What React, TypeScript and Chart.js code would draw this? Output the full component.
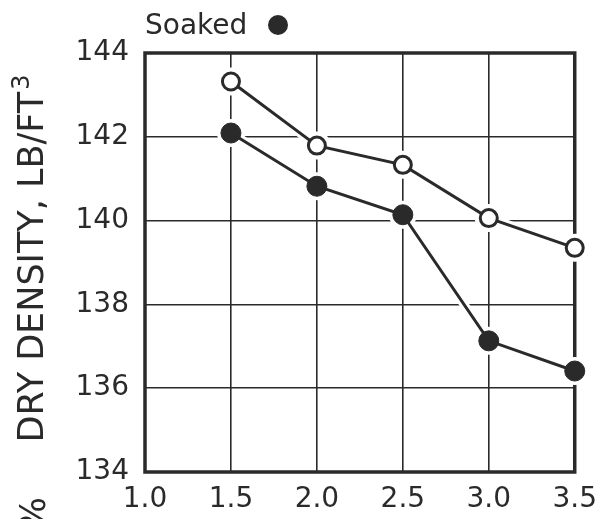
import React, { useEffect, useRef } from "react";
import { Chart, registerables } from "chart.js";

Chart.register(...registerables);

const xValues = [1.5, 2.0, 2.5, 3.0, 3.5];
const unsoaked = [143.32, 141.79, 141.33, 140.06, 139.35];
const soaked = [142.09, 140.82, 140.14, 137.13, 136.41];
const xTicks = [1.0, 1.5, 2.0, 2.5, 3.0, 3.5];
const yTicks = [134, 136, 138, 140, 142, 144];
const legendLabel = "Soaked";
const yTitleMain = "DRY DENSITY, LB/FT";
const yTitleSup = "3";
const cutLabel = "%";

const INK = "#2a2a2a";
const FONT = "'DejaVu Sans', sans-serif";

const toPts = (vals: number[]) => vals.map((y, i) => ({ x: xValues[i], y }));

const decorPlugin = {
  id: "decor",
  beforeDatasetsDraw(chart: any) {
    const { ctx, chartArea } = chart;
    ctx.save();
    ctx.strokeStyle = INK;
    ctx.lineWidth = 3.5;
    ctx.strokeRect(chartArea.left, chartArea.top, chartArea.right - chartArea.left, chartArea.bottom - chartArea.top);
    ctx.restore();
  },
  afterDraw(chart: any) {
    const { ctx, chartArea } = chart;
    ctx.save();
    ctx.fillStyle = INK;
    // legend
    ctx.font = `28px ${FONT}`;
    ctx.textAlign = "left";
    ctx.textBaseline = "alphabetic";
    ctx.fillText(legendLabel, 145, 34);
    ctx.beginPath();
    ctx.arc(278, 25, 10, 0, Math.PI * 2);
    ctx.fill();
    // y title
    const cy = (chartArea.top + chartArea.bottom) / 2 - 4;
    ctx.font = `35px ${FONT}`;
    const wMain = ctx.measureText(yTitleMain).width;
    ctx.font = `24px ${FONT}`;
    const wSup = ctx.measureText(yTitleSup).width;
    const total = wMain + wSup + 2;
    ctx.translate(43, cy);
    ctx.rotate(-Math.PI / 2);
    ctx.font = `35px ${FONT}`;
    ctx.fillText(yTitleMain, -total / 2, 0);
    ctx.font = `24px ${FONT}`;
    ctx.fillText(yTitleSup, -total / 2 + wMain + 2, -14);
    ctx.restore();
    // cut-off label at bottom-left
    ctx.save();
    ctx.fillStyle = INK;
    ctx.font = `35px ${FONT}`;
    ctx.translate(45, 497);
    ctx.rotate(-Math.PI / 2);
    ctx.textAlign = "right";
    ctx.fillText(cutLabel, 0, 0);
    ctx.restore();
  },
};

export default function App() {
  const ref = useRef<HTMLCanvasElement>(null);
  useEffect(() => {
    document.body.style.margin = "0";
    const canvas = ref.current!;
    const chart = new Chart(canvas, {
      type: "line",
      data: {
        datasets: [
          {
            label: "halo-unsoaked",
            data: toPts(unsoaked),
            borderColor: "#ffffff",
            backgroundColor: "#ffffff",
            borderWidth: 9,
            pointRadius: 14,
            pointBorderWidth: 0,
            order: 10,
            clip: false,
          },
          {
            label: "halo-soaked",
            data: toPts(soaked),
            borderColor: "#ffffff",
            backgroundColor: "#ffffff",
            borderWidth: 9,
            pointRadius: 14,
            pointBorderWidth: 0,
            order: 10,
            clip: false,
          },
          {
            label: "Unsoaked",
            data: toPts(unsoaked),
            borderColor: INK,
            backgroundColor: "#ffffff",
            pointBackgroundColor: "#ffffff",
            pointBorderColor: INK,
            borderWidth: 3,
            pointBorderWidth: 3,
            pointRadius: 8.5,
            order: 1,
            clip: false,
          },
          {
            label: legendLabel,
            data: toPts(soaked),
            borderColor: INK,
            backgroundColor: INK,
            pointBackgroundColor: INK,
            pointBorderColor: INK,
            borderWidth: 3,
            pointBorderWidth: 1,
            pointRadius: 10,
            order: 1,
            clip: false,
          },
        ],
      },
      options: {
        responsive: false,
        animation: false,
        layout: { padding: { left: 0, top: 53, right: 31, bottom: 0 } },
        plugins: { legend: { display: false }, tooltip: { enabled: false } },
        scales: {
          x: {
            type: "linear",
            min: xTicks[0],
            max: xTicks[xTicks.length - 1],
            afterBuildTicks: (s: any) => {
              s.ticks = xTicks.map((v) => ({ value: v }));
            },
            afterFit: (s: any) => {
              s.height = 47;
            },
            ticks: {
              color: INK,
              font: { family: FONT, size: 28 },
              padding: 11,
              maxRotation: 0,
              autoSkip: false,
              callback: (v: any) => Number(v).toFixed(1),
            },
            grid: { color: INK, lineWidth: 1.6, drawTicks: false },
            border: { display: false },
          },
          y: {
            type: "linear",
            min: yTicks[0],
            max: yTicks[yTicks.length - 1],
            afterBuildTicks: (s: any) => {
              s.ticks = yTicks.map((v) => ({ value: v }));
            },
            afterFit: (s: any) => {
              s.width = 145;
            },
            ticks: {
              color: INK,
              font: { family: FONT, size: 28 },
              padding: 16,
              autoSkip: false,
            },
            grid: { color: INK, lineWidth: 1.6, drawTicks: false },
            border: { display: false },
          },
        },
      },
      plugins: [decorPlugin],
    });
    return () => chart.destroy();
  }, []);
  return (
    <div style={{ position: "fixed", left: 0, top: 0, width: 608, height: 519, background: "#fff" }}>
      <canvas ref={ref} width={608} height={519} style={{ display: "block" }} />
    </div>
  );
}
